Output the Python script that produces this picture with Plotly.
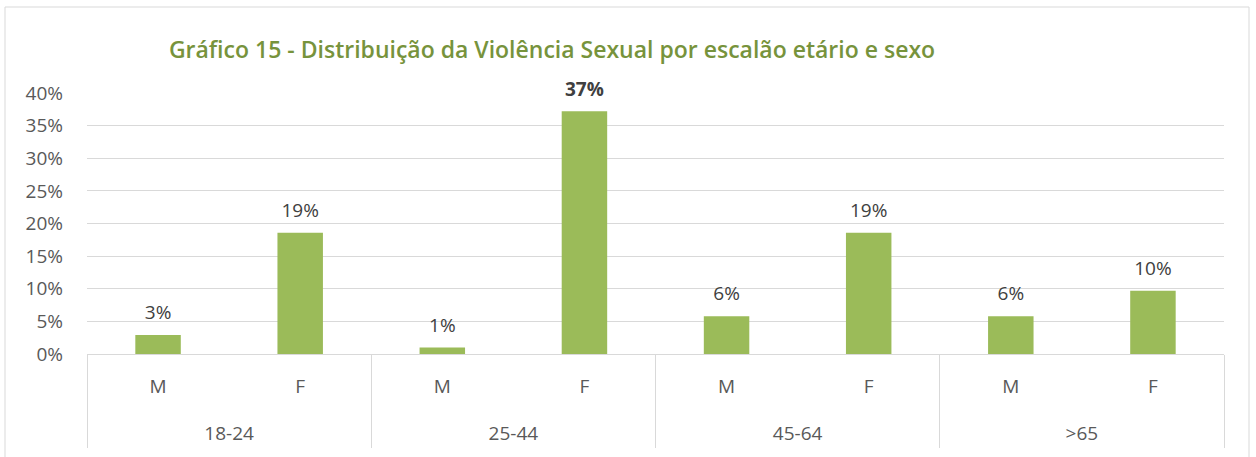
import plotly.graph_objects as go

age_groups = ["18-24", "18-24", "25-44", "25-44", "45-64", "45-64", ">65", ">65"]
sexes = ["M", "F", "M", "F", "M", "F", "M", "F"]
values = [2.9, 18.6, 1.0, 37.2, 5.8, 18.6, 5.8, 9.7]
bold_flags = [False, False, False, True, False, False, False, False]
y_ticks = [0, 5, 10, 15, 20, 25, 30, 35, 40]
title_text = "Gráfico 15 - Distribuição da Violência Sexual por escalão etário e sexo"

W, H = 1256, 457
L, R, T, B = 87, 32, 93, 103
pw, ph = W - L - R, H - T - B

labels = [f"<b>{v:.0f}%</b>" if b else f"{v:.0f}%" for v, b in zip(values, bold_flags)]

# group centres and boundaries derived from the category lists (index positions)
groups = []
for g in age_groups:
    if g not in groups:
        groups.append(g)
group_centres = [sum(i for i, a in enumerate(age_groups) if a == g) / age_groups.count(g) for g in groups]
boundaries = [-0.5] + [i - 0.5 for i in range(1, len(age_groups)) if age_groups[i] != age_groups[i - 1]] + [len(age_groups) - 0.5]
xr = [-0.5, len(age_groups) - 0.5]

fig = go.Figure()
fig.add_trace(go.Bar(
    x=[age_groups, sexes],
    y=values,
    marker=dict(color="#9BBB59", line=dict(width=0)),
    width=0.32,
    hoverinfo="skip",
))
fig.add_trace(go.Scatter(
    x=[age_groups, sexes],
    y=values,
    mode="markers+text",
    marker=dict(size=16, color="rgba(0,0,0,0)"),
    text=labels,
    textposition="top center",
    textfont=dict(family="Open Sans", size=19, color="#404040"),
    cliponaxis=False,
    hoverinfo="skip",
))

tickfont = dict(family="Open Sans", size=19, color="#595959")

fig.update_layout(
    width=W, height=H,
    margin=dict(l=L, r=R, t=T, b=B),
    paper_bgcolor="white", plot_bgcolor="white",
    showlegend=False,
    title=dict(
        text=title_text,
        font=dict(family="Open Sans", size=23, color="#77933C", weight=600),
        x=552 / W, xanchor="center",
        y=1 - 50 / H, yanchor="middle",
    ),
    font=dict(family="Open Sans", color="#595959", size=19),
    xaxis=dict(
        type="multicategory",
        automargin=False,
        range=xr,
        showline=True, linecolor="#D9D9D9", linewidth=1,
        showdividers=False, showticklabels=False,
        ticks="", showgrid=False,
    ),
    xaxis2=dict(
        overlaying="x", anchor="y", side="bottom",
        type="linear", range=xr, automargin=False,
        tickvals=list(range(len(sexes))), ticktext=sexes,
        tickfont=tickfont, ticks="", showgrid=False, zeroline=False, showline=False,
        ticklabelstandoff=19,
    ),
    xaxis3=dict(
        overlaying="x", anchor="y", side="bottom",
        type="linear", range=xr, automargin=False,
        tickvals=group_centres, ticktext=groups,
        tickfont=tickfont, ticks="", showgrid=False, zeroline=False, showline=False,
        ticklabelstandoff=66,
        minor=dict(tickvals=boundaries, ticks="outside", ticklen=93, tickcolor="#D9D9D9", tickwidth=1),
    ),
    yaxis=dict(
        automargin=False,
        range=[0, 40],
        tickvals=y_ticks,
        ticktext=[f"{v}%" for v in y_ticks],
        showgrid=True, gridcolor="#D9D9D9", gridwidth=1,
        zeroline=False, showline=False,
        tickfont=tickfont,
        ticklabelstandoff=23,
    ),
    shapes=[dict(
        type="rect", xref="paper", yref="paper",
        x0=(5 - L) / pw, x1=(1249 - L) / pw,
        y0=(H - B - 470) / ph, y1=(H - B - 7) / ph,
        line=dict(color="#D9D9D9", width=1), fillcolor="rgba(0,0,0,0)", layer="below",
    )],
)
# invisible anchor traces so the overlay axes are drawn
fig.add_trace(go.Scatter(x=[xr[0]], y=[0], xaxis="x2", mode="markers", marker=dict(opacity=0), hoverinfo="skip"))
fig.add_trace(go.Scatter(x=[xr[0]], y=[0], xaxis="x3", mode="markers", marker=dict(opacity=0), hoverinfo="skip"))

fig.write_html("out.html", config={"displayModeBar": False},
               post_script="document.body.style.margin='0';")
